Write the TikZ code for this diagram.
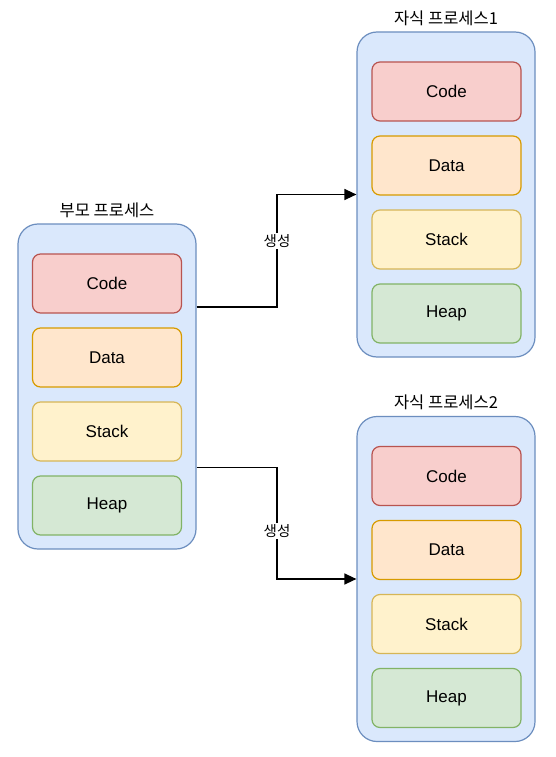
\documentclass[tikz,border=0pt]{standalone}
\usepackage{fontspec}
\setmainfont{Liberation Sans}
\newfontfamily\kr{Noto Sans CJK KR}
\usetikzlibrary{arrows.meta,calc}
\definecolor{blueF}{HTML}{DAE8FC}\definecolor{blueD}{HTML}{6C8EBF}
\definecolor{redF}{HTML}{F8CECC}\definecolor{redD}{HTML}{B85450}
\definecolor{oraF}{HTML}{FFE6CC}\definecolor{oraD}{HTML}{D79B00}
\definecolor{yelF}{HTML}{FFF2CC}\definecolor{yelD}{HTML}{D6B656}
\definecolor{grnF}{HTML}{D5E8D4}\definecolor{grnD}{HTML}{82B366}
\tikzset{
  outerbox/.style={draw=blueD,fill=blueF,line width=1.2pt,rounded corners=20pt,minimum width=178pt,minimum height=325pt,inner sep=0pt},
  seg/.style={line width=1.2pt,rounded corners=8pt,minimum width=149pt,minimum height=59pt,inner sep=0pt,font=\fontsize{17}{20}\selectfont},
  codebox/.style={seg,draw=redD,fill=redF},
  databox/.style={seg,draw=oraD,fill=oraF},
  stackbox/.style={seg,draw=yelD,fill=yelF},
  heapbox/.style={seg,draw=grnD,fill=grnF},
  titletext/.style={font=\kr\fontsize{16.5}{19}\selectfont,inner sep=1pt},
  edgelabel/.style={font=\kr\fontsize{14.5}{17}\selectfont,fill=white,inner sep=1pt},
  conn/.style={line width=1.3pt,-{Triangle[length=12pt,width=11pt]}}
}
\begin{document}
\begin{tikzpicture}[x=1pt,y=-1pt]
\useasboundingbox[fill=white] (0,0) rectangle (555,757);
% parent
\node[outerbox] (p) at (107,386.5) {};
\node[titletext] (pt) at (107,210) {부모 프로세스};
\node[codebox] (pc) at (107,283.5) {Code};
\node[databox] (pd) at (107,357.5) {Data};
\node[stackbox] (ps) at (107,431.5) {Stack};
\node[heapbox] (ph) at (107,505.5) {Heap};
% child 1
\node[outerbox] (a) at (446,194.5) {};
\node[titletext] (at) at (446,18) {자식 프로세스1};
\node[codebox] (ac) at (446.5,91.5) {Code};
\node[databox] (ad) at (446.5,165.5) {Data};
\node[stackbox] (as) at (446.5,239.5) {Stack};
\node[heapbox] (ah) at (446.5,313.5) {Heap};
% child 2
\node[outerbox] (b) at (446,579) {};
\node[titletext] (bt) at (446,402) {자식 프로세스2};
\node[codebox] (bc) at (446.5,476) {Code};
\node[databox] (bd) at (446.5,550) {Data};
\node[stackbox] (bs) at (446.5,624) {Stack};
\node[heapbox] (bh) at (446.5,698) {Heap};
% connectors
\coordinate (s1) at ($(p.east)+(0,-79.5)$);
\coordinate (s2) at ($(p.east)+(0,81)$);
\draw[conn] (s1) -- (277,307) |- (a.west);
\draw[conn] (s2) -- (277,467.5) |- (b.west);
\node[edgelabel] (l1) at (277,241) {생성};
\node[edgelabel] (l2) at (277,531) {생성};
\end{tikzpicture}
\end{document}
